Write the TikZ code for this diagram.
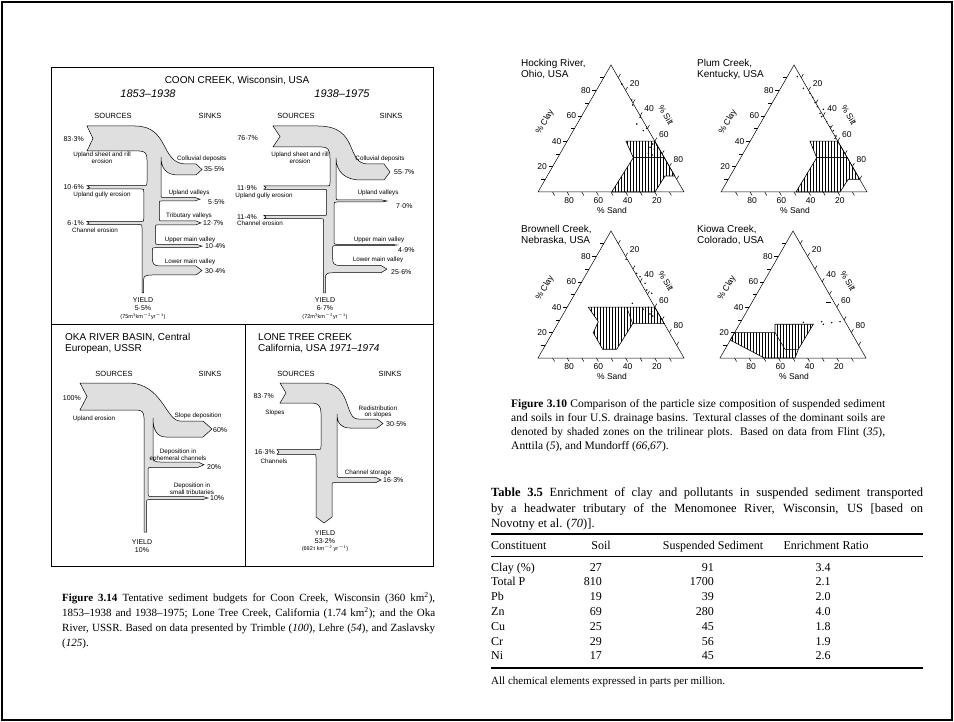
\documentclass[tikz,border=0pt]{standalone}
\usepackage{fontspec}
\setmainfont{Liberation Serif}
\setsansfont{Liberation Sans}
\usetikzlibrary{patterns}

% one trilinear plot: lower left corner at (#1,#2), names start with #3
\newcommand{\ternplot}[3]{%
  \begin{scope}[shift={(#1,#2)}]
    \draw[axis] (0,0) -- (146,0) -- (73,-127) -- cycle;
    \foreach \p in {10,20,...,90} {
      \draw[axis] ({0.73*\p},{-1.27*\p}) -- ++(-4,0);
      \draw[axis] ({73+0.73*\p},{-127+1.27*\p}) -- ++(2,-3.5);
      \draw[axis] ({1.46*\p},0) -- ++(2,3.5);
    }
    \foreach \p in {20,40,60,80} {
      \node[tick] (#3-c\p) at ({0.73*\p-10.5},{-1.27*\p}) {\p};
      \node[tick] (#3-s\p) at ({82+0.73*\p},{-134+1.27*\p}) {\p};
      \node[tick] (#3-d\p) at ({148-1.46*\p},8.5) {\p};
    }
    \node[tick] (#3-sand) at (74,18) {\% Sand};
    \node[tick, rotate=60] (#3-clay) at (7,-70) {\% Clay};
    \node[tick, rotate=-60] (#3-silt) at (128,-77) {\% Silt};
  \end{scope}}

\begin{document}
\begin{tikzpicture}[x=1pt, y=-1pt,
  flow/.style={draw, line width=0.5pt, fill=gray!25},
  axis/.style={line width=0.5pt},
  zone/.style={draw, line width=0.6pt, pattern=vertical lines},
  ttl/.style={font=\sffamily\fontsize{10}{11}\selectfont, inner sep=0pt, align=left},
  per/.style={font=\sffamily\itshape\fontsize{11}{12}\selectfont, inner sep=0pt, anchor=base},
  hd/.style={font=\sffamily\fontsize{7.5}{8}\selectfont, inner sep=0pt, anchor=base},
  lbl/.style={font=\sffamily\fontsize{6.3}{6.6}\selectfont, inner sep=0pt, align=center},
  pct/.style={font=\sffamily\fontsize{7}{8}\selectfont, inner sep=0pt},
  unit/.style={font=\sffamily\fontsize{5.5}{6}\selectfont, inner sep=0pt, anchor=base},
  tick/.style={font=\sffamily\fontsize{8.5}{9}\selectfont, inner sep=0pt},
  captxt/.style={font=\fontsize{11}{14}\selectfont, inner sep=0pt, anchor=base west},
  tab/.style={font=\fontsize{12}{14}\selectfont, inner sep=0pt}]
\useasboundingbox (0,0) rectangle (954,722);
\draw[line width=2pt] (2,2) rectangle (952,720);

% ---- figure 3.14 frame
\draw[line width=0.7pt] (51,67) rectangle (433,566);
\draw[line width=0.7pt] (51,324) -- (433,324);
\draw[line width=0.7pt] (245,324) -- (245,566);

% ---- Coon Creek
\node[ttl, anchor=base] (cc-title) at (237,84) {COON CREEK, Wisconsin, USA};
\node[per] (ca-per) at (148,98) {1853--1938};
\node[per] (cb-per) at (342,98) {1938--1975};
\node[hd] (ca-src) at (113,119) {SOURCES};
\node[hd] (ca-snk) at (210,119) {SINKS};
\node[hd] (cb-src) at (296,119) {SOURCES};
\node[hd] (cb-snk) at (391,119) {SINKS};

\draw[flow] (87,126) -- (135,126)
  .. controls (170,126) and (160,164) .. (186,164) -- (196,164) -- (202,169.5) -- (196,175) -- (178,175)
  .. controls (166,175) and (161,168) .. (161,157)
  -- (161,195) .. controls (161,197.5) .. (163.5,197.5) -- (195,197.5) -- (200,199.2) -- (195,200.9)
  -- (162,200.9) .. controls (159.3,200.9) .. (159.3,203.5)
  -- (159.3,218) .. controls (159.3,221) .. (162,221) -- (196,221) -- (201,222.9) -- (196,224.8)
  -- (158,224.8) .. controls (155.5,224.8) .. (155.5,227.5)
  -- (155.5,241.5) .. controls (155.5,244.5) .. (158.5,244.5) -- (197,244.5) -- (202,246.1) -- (197,247.7)
  -- (155,247.7) .. controls (152.4,247.7) .. (152.4,250.5)
  -- (152.4,258) .. controls (152.4,264) and (154,266) .. (160,266) -- (196,266) -- (202,270.5) -- (196,275)
  -- (152,275) .. controls (146,275) and (143.7,276) .. (143.7,279) -- (143.7,293) -- (142,293)
  -- (142,228) .. controls (142,224.5) .. (139,224.5) -- (87,224.5) -- (89,223) -- (87,221.5)
  -- (141,221.5) .. controls (143.8,221.5) .. (143.8,218.5)
  -- (143.8,192) .. controls (143.8,189) .. (141,189) -- (87,189) -- (89.5,187.3) -- (87,185.6)
  -- (143,185.6) .. controls (147,185.6) .. (147,181.6)
  -- (147,160) .. controls (147,153) and (145,151) .. (139,151) -- (87,151) -- (93,138.5) -- cycle;

\node[pct, anchor=base east] (ca-p1) at (84,141.5) {83·3\%};
\node[lbl] (ca-l1) at (102,158) {Upland sheet and rill\\erosion};
\node[pct, anchor=base east] (ca-p2) at (84,189.5) {10·6\%};
\node[lbl, anchor=base] (ca-l2) at (102,197) {Upland gully erosion};
\node[pct, anchor=base east] (ca-p3) at (84,225.5) {6·1\%};
\node[lbl, anchor=base] (ca-l3) at (95,233) {Channel erosion};
\node[lbl, anchor=base west] (ca-s1) at (177,161) {Colluvial deposits};
\node[pct, anchor=base west] (ca-q1) at (204,172) {35·5\%};
\node[lbl, anchor=base] (ca-s2) at (189,195) {Upland valleys};
\node[pct, anchor=base west] (ca-q2) at (208,204.5) {5·5\%};
\node[lbl, anchor=base] (ca-s3) at (189,218) {Tributary valleys};
\node[pct, anchor=base west] (ca-q3) at (203,225.5) {12·7\%};
\node[lbl, anchor=base] (ca-s4) at (190,242) {Upper main valley};
\node[pct, anchor=base west] (ca-q4) at (205,248.5) {10·4\%};
\node[lbl, anchor=base] (ca-s5) at (190,263.5) {Lower main valley};
\node[pct, anchor=base west] (ca-q5) at (205,273.5) {30·4\%};
\node[pct, anchor=base] (ca-yield) at (143,302.5) {YIELD};
\node[pct, anchor=base] (ca-y1) at (143,311) {5·5\%};
\node[unit] (ca-y2) at (143,318.5) {(75m\textsuperscript{3}km\textsuperscript{$-$2}yr\textsuperscript{$-$1})};

\draw[flow] (273,126) -- (318,126)
  .. controls (360,126) and (345,164) .. (368,164) -- (384,164) -- (390,172) -- (384,180) -- (360,180)
  .. controls (346,180) and (336,172) .. (336,158)
  -- (336,197) .. controls (336,200) .. (339,200) -- (382,200) -- (387,201) -- (382,202)
  -- (337,202) .. controls (334,202) .. (334,205)
  -- (334,241) .. controls (334,244.3) .. (337,244.3) -- (392,244.3) -- (397,245) -- (392,245.7)
  -- (336,245.7) .. controls (332.6,245.7) .. (332.6,249)
  -- (332.6,258) .. controls (332.6,263.5) and (334,265.5) .. (340,265.5) -- (381,265.5) -- (387,269.1) -- (381,272.7)
  -- (333,272.7) .. controls (327,272.7) and (325.4,274) .. (325.4,278) -- (325.4,293) -- (323.5,293)
  -- (323.5,221) .. controls (323.5,218.7) .. (321,218.7) -- (264,218.7) -- (266,217.1) -- (264,215.5)
  -- (324,215.5) .. controls (326.7,215.5) .. (326.7,212.5)
  -- (326.7,192) .. controls (326.7,189.3) .. (324,189.3) -- (264,189.3) -- (266,187.6) -- (264,186)
  -- (327,186) .. controls (330,186) .. (330,183)
  -- (330,158) .. controls (330,150) and (328,147) .. (322,147) -- (273,147) -- (280,136.5) -- cycle;

\node[pct, anchor=base east] (cb-p1) at (258,140.5) {76·7\%};
\node[lbl] (cb-l1) at (300,158) {Upland sheet and rill\\erosion};
\node[pct, anchor=base east] (cb-p2) at (257,190.5) {11·9\%};
\node[lbl, anchor=base] (cb-l2) at (264,197.5) {Upland gully erosion};
\node[pct, anchor=base east] (cb-p3) at (257,219.5) {11·4\%};
\node[lbl, anchor=base] (cb-l3) at (260,226) {Channel erosion};
\node[lbl, anchor=base] (cb-s1) at (380,161) {Colluvial deposits};
\node[pct, anchor=base west] (cb-q1) at (394,174.5) {55·7\%};
\node[lbl, anchor=base] (cb-s2) at (378,195) {Upland valleys};
\node[pct, anchor=base west] (cb-q2) at (396,208.5) {7·0\%};
\node[lbl, anchor=base] (cb-s3) at (379,242) {Upper main valley};
\node[pct, anchor=base west] (cb-q3) at (398,252.5) {4·9\%};
\node[lbl, anchor=base] (cb-s4) at (378,262) {Lower main valley};
\node[pct, anchor=base west] (cb-q4) at (391,274.5) {25·6\%};
\node[pct, anchor=base] (cb-yield) at (325,302.5) {YIELD};
\node[pct, anchor=base] (cb-y1) at (325,311) {6·7\%};
\node[unit] (cb-y2) at (325,318.5) {(72m\textsuperscript{3}km\textsuperscript{$-$2}yr\textsuperscript{$-$1})};

% ---- Oka river
\node[ttl, anchor=north west] (ok-title) at (65,333.5) {OKA RIVER BASIN, Central\\European, USSR};
\node[hd] (ok-src) at (114,376) {SOURCES};
\node[hd] (ok-snk) at (210,376) {SINKS};
\draw[flow] (80,383) -- (128,383)
  .. controls (162,383) and (166,421) .. (180,421) -- (203,421) -- (212,429) -- (203,437) -- (166,437)
  .. controls (157,437) and (153,430) .. (153,418)
  -- (153,456) .. controls (153,461) and (155,462) .. (160,462) -- (198,462) -- (204,464.7) -- (198,467.4)
  -- (151,467.4) .. controls (148,467.4) .. (148,471)
  -- (148,492) .. controls (148,496.5) .. (152,496.5) -- (203,496.5) -- (208,498) -- (203,499.5)
  -- (149.5,499.5) .. controls (146.7,499.5) .. (146.7,503) -- (146.7,532) -- (144,532)
  -- (144,418) .. controls (144,412) and (142,410) .. (136,410) -- (80,410) -- (87,396.5) -- cycle;
\node[pct, anchor=base east] (ok-p1) at (81,400) {100\%};
\node[lbl, anchor=base] (ok-l1) at (94,420) {Upland erosion};
\node[lbl, anchor=base] (ok-s1) at (198,417) {Slope deposition};
\node[pct, anchor=base west] (ok-q1) at (213,432.5) {60\%};
\node[lbl] (ok-s2) at (178,455.5) {Deposition in\\ephemeral channels};
\node[pct, anchor=base west] (ok-q2) at (207,469.5) {20\%};
\node[lbl] (ok-s3) at (192,489) {Deposition in\\small tributaries};
\node[pct, anchor=base west] (ok-q3) at (210,500.5) {10\%};
\node[pct, anchor=base] (ok-yield) at (142,544.5) {YIELD};
\node[pct, anchor=base] (ok-y1) at (142,552.5) {10\%};

% ---- Lone Tree creek
\node[ttl, anchor=north west] (lt-title) at (258,333.5) {LONE TREE CREEK\\California, USA \textit{1971--1974}};
\node[hd] (lt-src) at (296,377) {SOURCES};
\node[hd] (lt-snk) at (390,377) {SINKS};
\draw[flow] (280,383) -- (322,383)
  .. controls (352,383) and (344,419) .. (358,419) -- (377,419) -- (383,423.5) -- (377,428) -- (350,428)
  .. controls (341,428) and (337,423) .. (337,414)
  -- (337,473) .. controls (337,477.5) .. (341,477.5) -- (376,477.5) -- (381,480) -- (376,482.5)
  -- (335,482.5) .. controls (332,482.5) .. (332,486)
  -- (332,517) -- (324,523) -- (316,517)
  -- (316,457) .. controls (316,454.4) .. (313,454.4) -- (277,454.4) -- (279,452) -- (277,449.5)
  -- (318,449.5) .. controls (321,449.5) .. (321,446)
  -- (321,413) .. controls (321,406) and (318,403) .. (312,403) -- (280,403) -- (286,393) -- cycle;
\node[pct, anchor=base east] (lt-p1) at (274,398.5) {83·7\%};
\node[lbl, anchor=base] (lt-l1) at (275,414) {Slopes};
\node[lbl] (lt-s1) at (378,412) {Redistribution\\on slopes};
\node[pct, anchor=base west] (lt-q1) at (386,426.5) {30·5\%};
\node[pct, anchor=base east] (lt-p2) at (275,454.5) {16·3\%};
\node[lbl, anchor=base] (lt-l2) at (274,463) {Channels};
\node[lbl, anchor=base] (lt-s2) at (368,474.5) {Channel storage};
\node[pct, anchor=base west] (lt-q2) at (383,482.5) {16·3\%};
\node[pct, anchor=base] (lt-yield) at (325,535.5) {YIELD};
\node[pct, anchor=base] (lt-y1) at (325,543.5) {53·2\%};
\node[unit] (lt-y2) at (325,550.5) {(692\,t km\textsuperscript{$-$2} yr\textsuperscript{$-$1})};

% ---- figure 3.14 caption
\node[captxt] (f14-a) at (62,601) {\makebox[373pt][s]{\textbf{Figure 3.14} Tentative sediment budgets for Coon Creek, Wisconsin (360 km\textsuperscript{2}),}};
\node[captxt] (f14-b) at (62,616) {\makebox[373pt][s]{1853--1938 and 1938--1975; Lone Tree Creek, California (1.74 km\textsuperscript{2}); and the Oka}};
\node[captxt] (f14-c) at (62,631) {\makebox[373pt][s]{River, USSR. Based on data presented by Trimble (\textit{100}), Lehre (\textit{54}), and Zaslavsky}};
\node[captxt] (f14-d) at (62,646) {(\textit{125}).};

% ---- trilinear plots
\node[ttl, anchor=north west] (hr-name) at (521,59) {Hocking River,\\Ohio, USA};
\node[ttl, anchor=north west] (pc-name) at (697,59) {Plum Creek,\\Kentucky, USA};
\node[ttl, anchor=north west] (bc-name) at (521,225) {Brownell Creek,\\Nebraska, USA};
\node[ttl, anchor=north west] (kc-name) at (697,225) {Kiowa Creek,\\Colorado, USA};

\draw[zone] (626,141.2) -- (654.8,141.2) -- (664.3,157.7) -- (633.3,157.7) -- cycle;
\draw[zone] (633.3,157.7) -- (664.3,157.7) -- (674.8,176) -- (665,176) -- (655,192) -- (611.7,192) -- cycle;
\draw[zone] (810,141.2) -- (837.8,141.2) -- (847.3,157.7) -- (816.7,157.7) -- cycle;
\draw[zone] (816.7,157.7) -- (847.3,157.7) -- (859.7,179.3) -- (848.3,179.3) -- (840,192) -- (796,192) -- cycle;
\draw[zone] (588.3,307.2) -- (654.8,307.2) -- (664.3,323.7) -- (632.7,323.7) -- (616.7,349.3)
  -- (602.7,349.3) -- (593.3,332.7) -- (598.3,321.7) -- cycle;
\draw[axis] (626.7,307.2) -- (632.7,323.7);
\draw[zone] (734.6,332.6) -- (775,332.6) -- (775,324.3) -- (813.3,324.3) -- (798.3,349.3) -- (795,358)
  -- (764.3,358) -- (730.2,340) -- cycle;
\draw[axis] (775,332.6) -- (785,349.3) -- (798.3,349.3);

\ternplot{538}{192}{hr}
\ternplot{721}{192}{pc}
\ternplot{538}{358}{bc}
\ternplot{720}{358}{kc}

% suspended sediment samples
\foreach \x/\y in {621.7/84, 631.7/100, 632.7/105, 640/117.3, 636.7/124, 643.3/130.7, 646.7/128.3,
  652.7/144, 650/147.3, 654.3/149.3, 648.3/153.3, 652.3/155, 656.7/145,
  797.3/76.7, 803.3/88.3, 810/93.3, 812.7/97.3, 815/102.7, 817.3/106.7, 820/113.3, 823.3/109.3,
  821.7/116.7, 826.7/121.7, 830/126.7, 833.3/130.7, 836/136, 835/138.3,
  626/259.3, 636.7/273.3, 640/276.7, 645/283.3, 646.7/290, 651.7/293.3, 632.3/303.3, 643.3/309.3,
  648.3/307.3, 651.7/311.7, 652.7/316, 650/314,
  803.3/322.3, 821.7/321.7, 823.3/324.3, 831.7/322.7, 840/321.7}
  \fill (\x,\y) circle (0.8pt);
\draw[line width=0.8pt] (826,302.7) -- (830.5,302.7);

% ---- figure 3.10 caption
\node[captxt, font=\fontsize{11.5}{14}\selectfont] (f10-a) at (511,407) {\makebox[374pt][s]{\textbf{Figure 3.10} Comparison of the particle size composition of suspended sediment}};
\node[captxt, font=\fontsize{11.5}{14}\selectfont] (f10-b) at (511,421) {\makebox[374pt][s]{and soils in four U.S. drainage basins. Textural classes of the dominant soils are}};
\node[captxt, font=\fontsize{11.5}{14}\selectfont] (f10-c) at (511,435) {\makebox[374pt][s]{denoted by shaded zones on the trilinear plots. Based on data from Flint (\textit{35}),}};
\node[captxt, font=\fontsize{11.5}{14}\selectfont] (f10-d) at (511,449) {Anttila (\textit{5}), and Mundorff (\textit{66,67}).};

% ---- table 3.5
\node[captxt, font=\fontsize{12.5}{15}\selectfont] (t35-a) at (491,496) {\makebox[432pt][s]{\textbf{Table 3.5} Enrichment of clay and pollutants in suspended sediment transported}};
\node[captxt, font=\fontsize{12.5}{15}\selectfont] (t35-b) at (491,512) {\makebox[432pt][s]{by a headwater tributary of the Menomonee River, Wisconsin, US [based on}};
\node[captxt, font=\fontsize{12.5}{15}\selectfont] (t35-c) at (491,527) {Novotny et al. (\textit{70})].};
\draw[line width=1.1pt] (491,534) -- (923,534);
\draw[line width=0.5pt] (491,556) -- (923,556);
\draw[line width=1.1pt] (491,668) -- (923,668);
\node[tab, anchor=base west] (th-c) at (491,549) {Constituent};
\node[tab, anchor=base] (th-s) at (601,549) {Soil};
\node[tab, anchor=base] (th-m) at (713,549) {Suspended Sediment};
\node[tab, anchor=base] (th-r) at (826,549) {Enrichment Ratio};
\foreach \c/\s/\m/\r [count=\i] in {Clay (\%)/27/91/3.4, Total P/810/1700/2.1, Pb/19/39/2.0,
    Zn/69/280/4.0, Cu/25/45/1.8, Cr/29/56/1.9, Ni/17/45/2.6} {
  \node[tab, anchor=base west] (tr-c\i) at (491,{571+14.8*(\i-1)}) {\c};
  \node[tab, anchor=base east] (tr-s\i) at (602,{571+14.8*(\i-1)}) {\s};
  \node[tab, anchor=base east] (tr-m\i) at (714,{571+14.8*(\i-1)}) {\m};
  \node[tab, anchor=base] (tr-r\i) at (823,{571+14.8*(\i-1)}) {\r};
}
\node[captxt] (t35-note) at (491,684) {All chemical elements expressed in parts per million.};
\end{tikzpicture}
\end{document}
